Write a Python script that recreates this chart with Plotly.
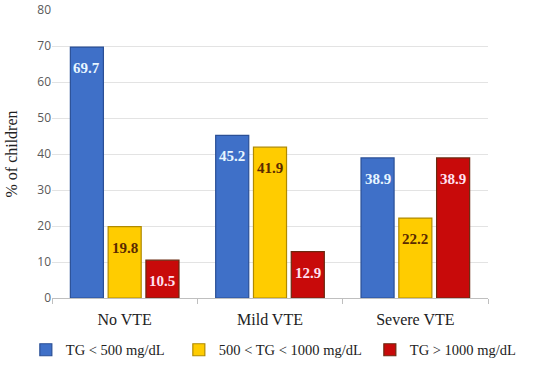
import plotly.graph_objects as go

categories = ["No VTE", "Mild VTE", "Severe VTE"]
series_names = ["TG < 500 mg/dL", "500 < TG < 1000 mg/dL", "TG > 1000 mg/dL"]
tg_low = [69.7, 45.2, 38.9]
tg_mid = [19.8, 41.9, 22.2]
tg_high = [10.5, 12.9, 38.9]
y_ticks = [0, 10, 20, 30, 40, 50, 60, 70, 80]

series_values = [tg_low, tg_mid, tg_high]
fills = ["#3F70C8", "#FFCC00", "#C80A0A"]
edges = ["#2A4F96", "#B08A00", "#6B2A10"]
text_colors = ["#E8F6FF", "#5A2A00", "#FFE0F0"]
legend_widths = [108, 146, 102]

W, H = 550, 365
ML, MR, MT, MB = 52, 62, 10, 67
BARGAP, GROUPGAP = 0.22, 0.125
serif = "Liberation Serif, DejaVu Serif, serif"

fig = go.Figure()
for name, vals, fc, ec, lw in zip(series_names, series_values, fills, edges, legend_widths):
    fig.add_trace(go.Bar(
        x=categories, y=vals, name=name,
        marker=dict(color=fc, line=dict(color=ec, width=1.2)),
        hoverinfo="x+y", legendwidth=lw,
    ))

# value labels placed just below each bar top
plot_w = W - ML - MR
slot = plot_w / len(categories) * (1 - BARGAP) / len(series_values)
for si, (vals, tc) in enumerate(zip(series_values, text_colors)):
    offset = (si - (len(series_values) - 1) / 2) * slot
    for cat, v in zip(categories, vals):
        fig.add_annotation(
            x=cat, y=v, xref="x", yref="y", text=f"<b>{v:.1f}</b>", showarrow=False,
            yanchor="top", yshift=-11, xshift=offset,
            font=dict(family=serif, size=15, color=tc),
        )

fig.update_layout(
    width=W, height=H,
    margin=dict(l=ML, r=MR, t=MT, b=MB, autoexpand=False),
    plot_bgcolor="white", paper_bgcolor="white",
    barmode="group", bargap=BARGAP, bargroupgap=GROUPGAP,
    showlegend=True,
    legend=dict(orientation="h", x=-0.06, xanchor="left",
                y=-0.18, yanchor="middle",
                font=dict(family=serif, size=14.5, color="#222"),
                itemwidth=30, traceorder="normal"),
)
fig.update_xaxes(
    showline=True, linecolor="#BFBFBF", linewidth=1, automargin=False,
    ticks="outside", tickson="boundaries", tickcolor="#BFBFBF", ticklen=5,
    ticklabelstandoff=7,
    tickfont=dict(family=serif, size=16, color="#222"),
    showgrid=False,
)
fig.update_yaxes(
    range=[0, 80], tickvals=y_ticks, showgrid=True, gridcolor="#E3E3E3", gridwidth=1,
    zeroline=False, showline=False, automargin=False,
    tickfont=dict(family="Open Sans, Liberation Sans, sans-serif", size=12, color="#595959"),
    title=dict(text="% of children", font=dict(family=serif, size=16, color="#222")),
)
fig.write_html("out.html", config={"displayModeBar": False},
               post_script="document.body.style.margin='0';document.body.style.overflow='hidden';")
